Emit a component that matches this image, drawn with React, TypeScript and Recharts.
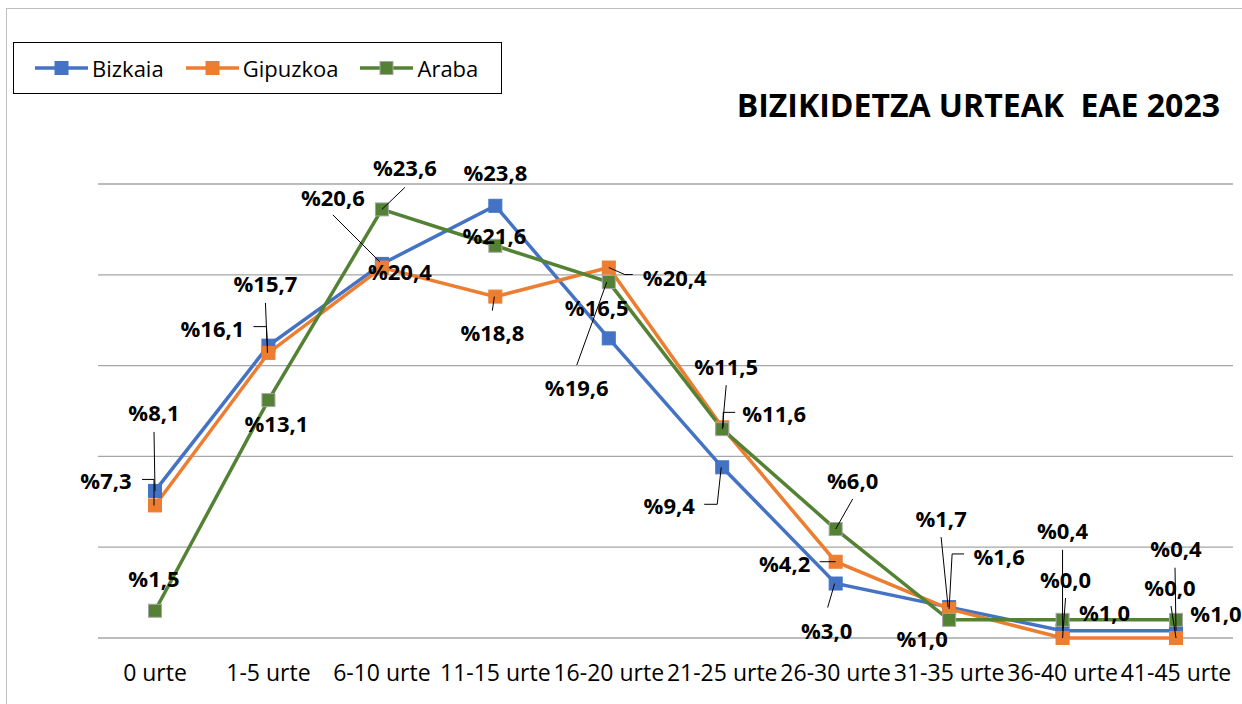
import React from 'react';
import {
  LineChart,
  Line,
  XAxis,
  YAxis,
  CartesianGrid,
  Legend,
  LabelList
} from 'recharts';

const categories = [
  '0 urte',
  '1-5 urte',
  '6-10 urte',
  '11-15 urte',
  '16-20 urte',
  '21-25 urte',
  '26-30 urte',
  '31-35 urte',
  '36-40 urte',
  '41-45 urte'
];

const bizkaia = [8.1, 16.1, 20.6, 23.8, 16.5, 9.4, 3.0, 1.7, 0.4, 0.4];
const gipuzkoa = [7.3, 15.7, 20.4, 18.8, 20.4, 11.6, 4.2, 1.6, 0.0, 0.0];
const araba = [1.5, 13.1, 23.6, 21.6, 19.6, 11.5, 6.0, 1.0, 1.0, 1.0];

const yTicks = [0, 5, 10, 15, 20, 25];

const data = categories.map((name, i) => ({
  name,
  Bizkaia: bizkaia[i],
  Gipuzkoa: gipuzkoa[i],
  Araba: araba[i]
}));

// label placement relative to each point: [dx, dy, leader polyline]
type Place = [number, number, number[][]?];

const bizkaiaPlaces: Place[] = [
  [-1, -79, [[-1, -59], [0, 0]]],
  [-56, -18, [[-15, -19], [-2, -19], [-1, 0]]],
  [-49, -67, [[-49, -49], [-2, -2]]],
  [0, -34],
  [-12, -31],
  [-53, 38, [[-18, 37], [-5, 37], [-1, 0]]],
  [-9, 46, [[-8, 24], [-1, 0]]],
  [-8, -89, [[-8, -70], [-1, 0]]],
  [0, -101, [[0, -81], [0, 0]]],
  [0, -83, [[-1, -63], [0, 0]]]
];

const gipuzkoaPlaces: Place[] = [
  [-49, -25, [[-13, -26], [-1, -26], [-1, 0]]],
  [-3, -70, [[-3, -50], [-1, 0]]],
  [18, 3],
  [-3, 35, [[-3, 14], [-1, 0]]],
  [66, 9, [[24, 7], [16, 7], [0, 0]]],
  [52, -14, [[13, -15], [1, -15], [1, 0]]],
  [-51, 1, [[-16, 0], [0, 0]]],
  [50, -53, [[15, -55], [3, -55], [0, 0]]],
  [3, -59, [[3, -40], [0, 0]]],
  [-6, -51, [[-5, -32], [0, 0]]]
];

const arabaPlaces: Place[] = [
  [-1, -33],
  [8, 23],
  [23, -42, [[23, -22], [0, 0]]],
  [-1, -11],
  [-32, 105, [[-32, 83], [-2, 0]]],
  [4, -63, [[4, -44], [0, 0]]],
  [17, -49, [[17, -30], [0, 0]]],
  [-27, 18],
  [42, -8],
  [40, -7]
];

const FONT = '"Open Sans", "Noto Sans", sans-serif';

const fmt = (v: number) => '%' + v.toFixed(1).replace('.', ',');

const makeLabel = (places: Place[]) => (props: any) => {
  const { x, y, index, value } = props;
  const p = places[index];
  if (!p) return null;
  const [dx, dy, leader] = p;
  return (
    <g>
      {leader && (
        <polyline
          points={leader.map(([lx, ly]) => `${x + lx},${y + ly}`).join(' ')}
          fill="none"
          stroke="#000"
          strokeWidth={1}
        />
      )}
      <text
        x={x + dx}
        y={y + dy}
        textAnchor="middle"
        dominantBaseline="central"
        fontFamily={FONT}
        fontWeight={700}
        fontSize={22}
        fill="#000"
      >
        {fmt(value)}
      </text>
    </g>
  );
};

const makeDot = (fill: string, stroke: string) => (props: any) => {
  const { cx, cy, index } = props;
  return (
    <rect
      key={`dot-${fill}-${index}`}
      x={cx - 6.5}
      y={cy - 6.5}
      width={13}
      height={13}
      fill={fill}
      stroke={stroke}
      strokeWidth={1}
    />
  );
};

const seriesStyle = [
  { key: 'Bizkaia', color: '#4472C4', border: '#4472C4' },
  { key: 'Gipuzkoa', color: '#ED7D31', border: '#ED7D31' },
  { key: 'Araba', color: '#548235', border: '#A5A5A5' }
];

const renderLegend = () => (
  <div
    style={{
      boxSizing: 'border-box',
      width: 489,
      height: 52,
      border: '1.5px solid #000',
      display: 'flex',
      alignItems: 'center',
      paddingLeft: 21,
      fontFamily: FONT,
      fontSize: 22,
      color: '#000',
      background: '#fff'
    }}
  >
    {seriesStyle.map((s) => (
      <div key={s.key} style={{ display: 'flex', alignItems: 'center', marginRight: 22 }}>
        <svg width={53} height={16}>
          <line x1={0} y1={8} x2={53} y2={8} stroke={s.color} strokeWidth={3.5} />
          <rect x={20} y={1.5} width={13} height={13} fill={s.color} stroke={s.border} strokeWidth={1} />
        </svg>
        <span style={{ marginLeft: 4, lineHeight: '24px' }}>{s.key}</span>
      </div>
    ))}
  </div>
);

const App: React.FC = () => {
  return (
    <div
      style={{
        position: 'fixed',
        left: 0,
        top: 0,
        width: 1242,
        height: 704,
        overflow: 'hidden',
        background: '#fff'
      }}
    >
      <div
        style={{
          position: 'absolute',
          left: 6,
          top: 8,
          width: 1260,
          height: 720,
          border: '1px solid #BFBFBF'
        }}
      />
      <div
        style={{
          position: 'absolute',
          right: 22,
          top: 85,
          lineHeight: '40px',
          fontFamily: FONT,
          fontWeight: 700,
          fontSize: 32,
          color: '#000',
          whiteSpace: 'pre'
        }}
      >
        {'BIZIKIDETZA URTEAK  EAE 2023'}
      </div>
      <div style={{ position: 'absolute', left: 0, top: 0 }}>
        <LineChart
          width={1242}
          height={704}
          data={data}
          margin={{ top: 184, right: 9, bottom: 36, left: 98 }}
        >
          <CartesianGrid vertical={false} stroke="#A6A6A6" strokeWidth={1.3} />
          <XAxis
            dataKey="name"
            height={30}
            axisLine={false}
            tickLine={false}
            tickSize={0}
            tickMargin={27}
            interval={0}
            padding={{ left: 57, right: 57 }}
            tick={{ fill: '#000', fontSize: 23, fontFamily: FONT }}
          />
          <YAxis hide domain={[0, 25]} ticks={yTicks} />
          <Legend
            layout="horizontal"
            verticalAlign="middle"
            align="center"
            content={renderLegend}
            wrapperStyle={{ left: 13, top: 42, width: 489, height: 52 }}
          />
          {seriesStyle.map((s, si) => (
            <Line
              key={s.key}
              type="linear"
              dataKey={s.key}
              stroke={s.color}
              strokeWidth={3.5}
              dot={makeDot(s.color, s.border)}
              activeDot={false}
              isAnimationActive={false}
            >
              <LabelList
                dataKey={s.key}
                content={makeLabel([bizkaiaPlaces, gipuzkoaPlaces, arabaPlaces][si])}
              />
            </Line>
          ))}
        </LineChart>
      </div>
    </div>
  );
};

export default App;
